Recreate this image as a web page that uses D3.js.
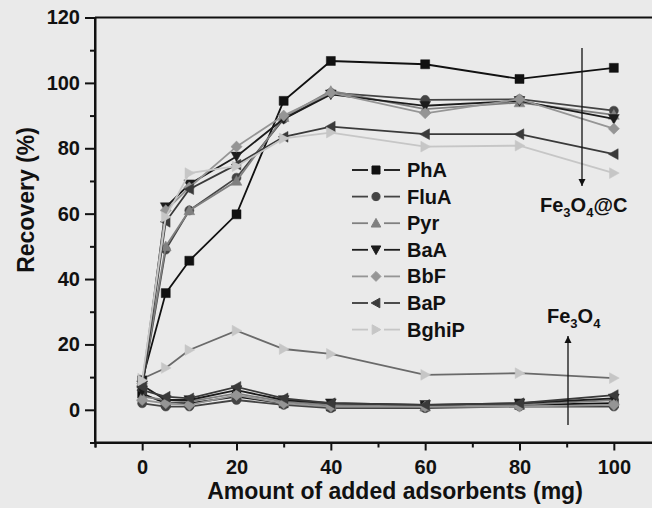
<!DOCTYPE html>
<html>
<head>
<meta charset="utf-8">
<script src="https://cdn.jsdelivr.net/npm/d3@7"></script>
<style>
  html, body { margin: 0; padding: 0; background: #eaeaea; }
  svg { display: block; }
  text { font-family: "Liberation Sans", Arial, Helvetica, sans-serif; font-weight: bold; fill: #111; }
</style>
</head>
<body>
<svg id="chart" width="652" height="508"></svg>
<script>
// ---- data ----
const xValues = [0, 5, 10, 20, 30, 40, 60, 80, 100];
const seriesNames = ["PhA", "FluA", "Pyr", "BaA", "BbF", "BaP", "BghiP"];

// Fe3O4@C adsorbent
const PhA_C   = [9, 35.7, 45.6, 59.8, 94.5, 106.7, 105.7, 101.2, 104.6];
const FluA_C  = [7, 49, 61, 71, 89, 97, 94.8, 95, 91.5];
const Pyr_C   = [8, 50, 61, 70, 89.5, 97.5, 92, 94, 90.2];
const BaA_C   = [6, 62, 69, 77.5, 89, 96.5, 93, 94.5, 89];
const BbF_C   = [8, 61, 68, 80.5, 90, 97, 90.7, 95, 86];
const BaP_C   = [7, 57.5, 67.5, 75, 83.5, 86.6, 84.3, 84.3, 78.2];
const BghiP_C = [9, 59, 72.4, 74.5, 83, 84.8, 80.5, 80.8, 72.4];

// Fe3O4 adsorbent
const PhA_F   = [5, 2, 2, 4, 2, 1, 1, 1.5, 2];
const FluA_F  = [2, 1, 1, 3, 1.5, 0.5, 0.5, 1, 1];
const Pyr_F   = [4, 3, 2.5, 5, 2.5, 1.5, 1, 1.5, 3];
const BaA_F   = [7.5, 3, 3, 6, 3, 2, 1.5, 2, 3.5];
const BbF_F   = [3, 2, 1.5, 4.5, 2, 1, 1, 1, 1.5];
const BaP_F   = [6, 4, 3.5, 7, 3.5, 2, 1.5, 2, 4.5];
const BghiP_F = [9.5, 12.8, 18.3, 24.2, 18.6, 17.1, 10.7, 11.2, 9.7];

const yMajorTicks = [0, 20, 40, 60, 80, 100, 120];
const yMinorTicks = [-10, 10, 30, 50, 70, 90, 110];
const xMajorTicks = [0, 20, 40, 60, 80, 100];
const xMinorTicks = [-10, 10, 30, 50, 70, 90];

// ---- styles ----
const colors = { PhA: "#111", FluA: "#444", Pyr: "#808080", BaA: "#1c1c1c", BbF: "#959595", BaP: "#3a3a3a", BghiP: "#c6c6c6" };
const symbols = { PhA: "square", FluA: "circle", Pyr: "up", BaA: "down", BbF: "diamond", BaP: "left", BghiP: "right" };

const groupC = { PhA: PhA_C, FluA: FluA_C, Pyr: Pyr_C, BaA: BaA_C, BbF: BbF_C, BaP: BaP_C, BghiP: BghiP_C };
const groupF = { PhA: PhA_F, FluA: FluA_F, Pyr: Pyr_F, BaA: BaA_F, BbF: BbF_F, BaP: BaP_F, BghiP: BghiP_F };

const svg = d3.select("#chart");
const x = d3.scaleLinear().domain([-10, 110]).range([95, 661]);
const y = d3.scaleLinear().domain([-10, 120]).range([442.5, 17.5]);

// axes
const axisFont = 20;
const gy = svg.append("g").attr("transform", `translate(${x(-10)},0)`);
gy.call(d3.axisLeft(y).tickValues(yMajorTicks).tickSize(10).tickPadding(5).tickFormat(d3.format("d")));
gy.append("g").call(d3.axisLeft(y).tickValues(yMinorTicks).tickSize(5).tickFormat(""));
const gx = svg.append("g").attr("transform", `translate(0,${y(-10)})`);
gx.call(d3.axisBottom(x).tickValues(xMajorTicks).tickSize(8).tickPadding(9).tickFormat(d3.format("d")));
gx.append("g").call(d3.axisBottom(x).tickValues(xMinorTicks).tickSize(5).tickFormat(""));
svg.selectAll(".domain").attr("stroke", "#111").attr("stroke-width", 2);
svg.selectAll(".tick line").attr("stroke", "#111").attr("stroke-width", 2);
svg.selectAll(".tick text").style("font-size", axisFont + "px").style("font-weight", "bold")
   .style("font-family", '"Liberation Sans", Arial, sans-serif').attr("fill", "#111");
// remove end caps of domain paths at -10 overlap
gy.select(".domain").attr("d", `M0,${y(-10)}V${y(120)}`);
gx.select(".domain").attr("d", `M${x(-10)},0H${x(110)}`);
// top frame
svg.append("line").attr("x1", x(-10)).attr("x2", x(110)).attr("y1", y(120)).attr("y2", y(120))
  .attr("stroke", "#111").attr("stroke-width", 2);

// axis titles
svg.append("text").attr("x", 395).attr("y", 499).attr("text-anchor", "middle")
  .style("font-size", "23px").text("Amount of added adsorbents (mg)");
svg.append("text").attr("transform", "translate(34,200) rotate(-90)").attr("text-anchor", "middle")
  .style("font-size", "23px").text("Recovery (%)");

// symbol generator
function symPath(kind, s) {
  switch (kind) {
    case "square": return d3.symbol(d3.symbolSquare, s * s)();
    case "circle": return d3.symbol(d3.symbolCircle, s * s * 0.8)();
    case "diamond": { const r = s * 0.62; return `M0,${-r}L${r},0L0,${r}L${-r},0Z`; }
    case "up": { const r = s * 0.6; return `M0,${-r}L${r},${r * 0.8}L${-r},${r * 0.8}Z`; }
    case "down": { const r = s * 0.6; return `M0,${r}L${r},${-r * 0.8}L${-r},${-r * 0.8}Z`; }
    case "left": { const r = s * 0.6; return `M${-r},0L${r * 0.8},${-r}L${r * 0.8},${r}Z`; }
    case "right": { const r = s * 0.6; return `M${r},0L${-r * 0.8},${-r}L${-r * 0.8},${r}Z`; }
  }
}

const line = d3.line().x(d => x(d[0])).y(d => y(d[1]));
const markerSize = 9;

function drawGroup(group, lineColorOverride) {
  const g = svg.append("g");
  seriesNames.forEach(name => {
    const pts = xValues.map((xv, i) => [xv, group[name][i]]);
    const lc = (lineColorOverride && lineColorOverride[name]) || colors[name];
    g.append("path").datum(pts).attr("d", line).attr("fill", "none")
      .attr("stroke", lc).attr("stroke-width", 1.8);
    g.selectAll(null).data(pts).enter().append("path")
      .attr("transform", d => `translate(${x(d[0])},${y(d[1])})`)
      .attr("d", symPath(symbols[name], markerSize))
      .attr("fill", colors[name]).attr("stroke", colors[name]).attr("stroke-width", 0.5);
  });
}
drawGroup(groupF, { BghiP: "#6a6a6a" });
drawGroup(groupC, null);

// legend
const legend = svg.append("g");
seriesNames.forEach((name, i) => {
  const ly = 170 + i * 26.6;
  legend.append("line").attr("x1", 352).attr("x2", 368).attr("y1", ly).attr("y2", ly)
    .attr("stroke", colors[name]).attr("stroke-width", 1.8);
  legend.append("line").attr("x1", 384).attr("x2", 400).attr("y1", ly).attr("y2", ly)
    .attr("stroke", colors[name]).attr("stroke-width", 1.8);
  legend.append("path").attr("transform", `translate(376,${ly})`)
    .attr("d", symPath(symbols[name], 8)).attr("fill", colors[name]).attr("stroke", colors[name]);
  legend.append("text").attr("x", 407).attr("y", ly + 7).style("font-size", "20px").text(name);
});

// annotations
const ann = svg.append("g");
const defs = svg.append("defs");
defs.append("marker").attr("id", "ah").attr("viewBox", "0 0 10 10").attr("refX", 10).attr("refY", 5)
  .attr("markerWidth", 7).attr("markerHeight", 9).attr("orient", "auto-start-reverse")
  .attr("markerUnits", "userSpaceOnUse")
  .append("path").attr("d", "M0,0L10,5L0,10Z").attr("fill", "#111");
ann.append("line").attr("x1", 582).attr("x2", 582).attr("y1", 48).attr("y2", 186)
  .attr("stroke", "#111").attr("stroke-width", 1.3).attr("marker-end", "url(#ah)");
ann.append("line").attr("x1", 568).attr("x2", 568).attr("y1", 425).attr("y2", 336)
  .attr("stroke", "#111").attr("stroke-width", 1.3).attr("marker-end", "url(#ah)");

function chem(xp, yp, parts) {
  const t = ann.append("text").attr("x", xp).attr("y", yp).style("font-size", "20px");
  parts.forEach(p => {
    const ts = t.append("tspan").text(p[0]);
    if (p[1]) ts.style("font-size", "13px").attr("dy", 5);
    else if (p[2]) ts.attr("dy", -5);
  });
}
chem(540, 212, [["Fe"], ["3", true], ["O", false, true], ["4", true], ["@C", false, true]]);
chem(547, 323, [["Fe"], ["3", true], ["O", false, true], ["4", true]]);
</script>
</body>
</html>
